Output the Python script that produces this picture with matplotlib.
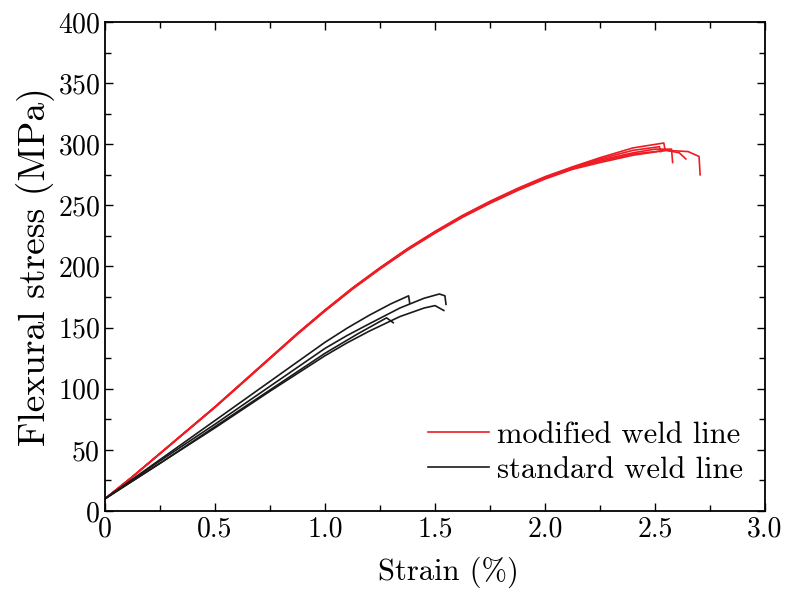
import numpy as np
import matplotlib
matplotlib.use('Agg')
import matplotlib.pyplot as plt

plt.rcParams['font.family'] = 'serif'
plt.rcParams['font.serif'] = ['cmr10', 'DejaVu Serif']
plt.rcParams['mathtext.fontset'] = 'cm'
plt.rcParams['axes.formatter.use_mathtext'] = True

# modified weld line: shared rising part (strain %, stress MPa)
red_base_x = [0, 0.125, 0.25, 0.375, 0.5, 0.625, 0.75, 0.875, 1.0, 1.125, 1.25,
              1.375, 1.5, 1.625, 1.75, 1.875, 2.0, 2.125]
red_base_y = [10, 28, 47, 66, 85, 105, 125, 145, 164, 182, 198.5,
              214, 228, 241, 252.5, 263, 272.5, 280.5]

# modified weld line: individual ends of the five specimens
red_end_strain = [
    [2.25, 2.4, 2.54, 2.545],
    [2.25, 2.4, 2.5, 2.575, 2.58],
    [2.25, 2.4, 2.55, 2.61, 2.64],
    [2.25, 2.4, 2.55, 2.65, 2.70, 2.705],
    [2.25, 2.4, 2.52, 2.525],
]
red_end_stress = [
    [289, 297, 301, 296],
    [287, 293, 296, 296, 285],
    [286, 292, 295, 293, 288],
    [285, 291, 295, 294, 290, 275],
    [288, 295, 298, 294],
]
red_offset = [1.0, 0.0, -0.5, -1.0, 0.5]

# standard weld line curves
black_strain = [
    [0, 0.25, 0.5, 0.75, 1.0, 1.1, 1.2, 1.3, 1.38, 1.385],
    [0, 0.25, 0.5, 0.75, 1.0, 1.1, 1.2, 1.34, 1.45, 1.52, 1.545, 1.55],
    [0, 0.25, 0.5, 0.75, 1.0, 1.1, 1.2, 1.34, 1.45, 1.5, 1.54],
    [0, 0.25, 0.5, 0.75, 1.0, 1.15, 1.28, 1.31],
]
black_stress = [
    [10, 42, 74, 106, 138, 149.5, 160, 169.5, 176, 170],
    [10, 41, 71, 102, 133, 143.5, 153, 166, 174, 177.5, 176, 169],
    [10, 39, 68, 98, 127, 137.5, 147, 159, 166, 168, 164],
    [10, 39, 69, 99, 129, 145, 158, 154],
]

fig = plt.figure(figsize=(7.9, 5.91), dpi=100)
ax = fig.add_axes([0.1329, 0.1354, 0.8355, 0.8274])

for i in range(len(red_end_strain)):
    xs = red_base_x + red_end_strain[i]
    ys = [v + red_offset[i] * k / (len(red_base_y) - 1) for k, v in enumerate(red_base_y)] + red_end_stress[i]
    ax.plot(xs, ys, color='#ee1c24', lw=1.2,
            label='modified weld line' if i == 0 else None)
for i in range(len(black_strain)):
    ax.plot(black_strain[i], black_stress[i], color='#1a1a1a', lw=1.2,
            label='standard weld line' if i == 0 else None)

ax.set_xlim(0, 3.0)
ax.set_ylim(0, 400)
ax.set_xticks(np.arange(0, 3.01, 0.5))
ax.set_xticklabels(['0', '0.5', '1.0', '1.5', '2.0', '2.5', '3.0'])
ax.set_xticks(np.arange(0, 3.01, 0.25), minor=True)
ax.set_yticks(np.arange(0, 401, 50))
ax.set_yticks(np.arange(0, 401, 25), minor=True)

ax.tick_params(which='both', direction='in', top=True, right=True,
               labelsize=20, width=1.0)
ax.tick_params(which='major', length=6)
ax.tick_params(which='minor', length=4)
for s in ax.spines.values():
    s.set_linewidth(1.3)

ax.set_xlabel('Strain (%)', fontsize=22)
ax.xaxis.set_label_coords(0.52, -0.094)
ax.set_ylabel('Flexural stress (MPa)', fontsize=27, labelpad=2)

ax.legend(loc='lower right', bbox_to_anchor=(0.967, 0.055), frameon=False,
          fontsize=22, handlelength=2.0, handletextpad=0.26,
          labelspacing=0.25, borderaxespad=0.0, borderpad=0.0)

fig.savefig('out.png', dpi=100)
